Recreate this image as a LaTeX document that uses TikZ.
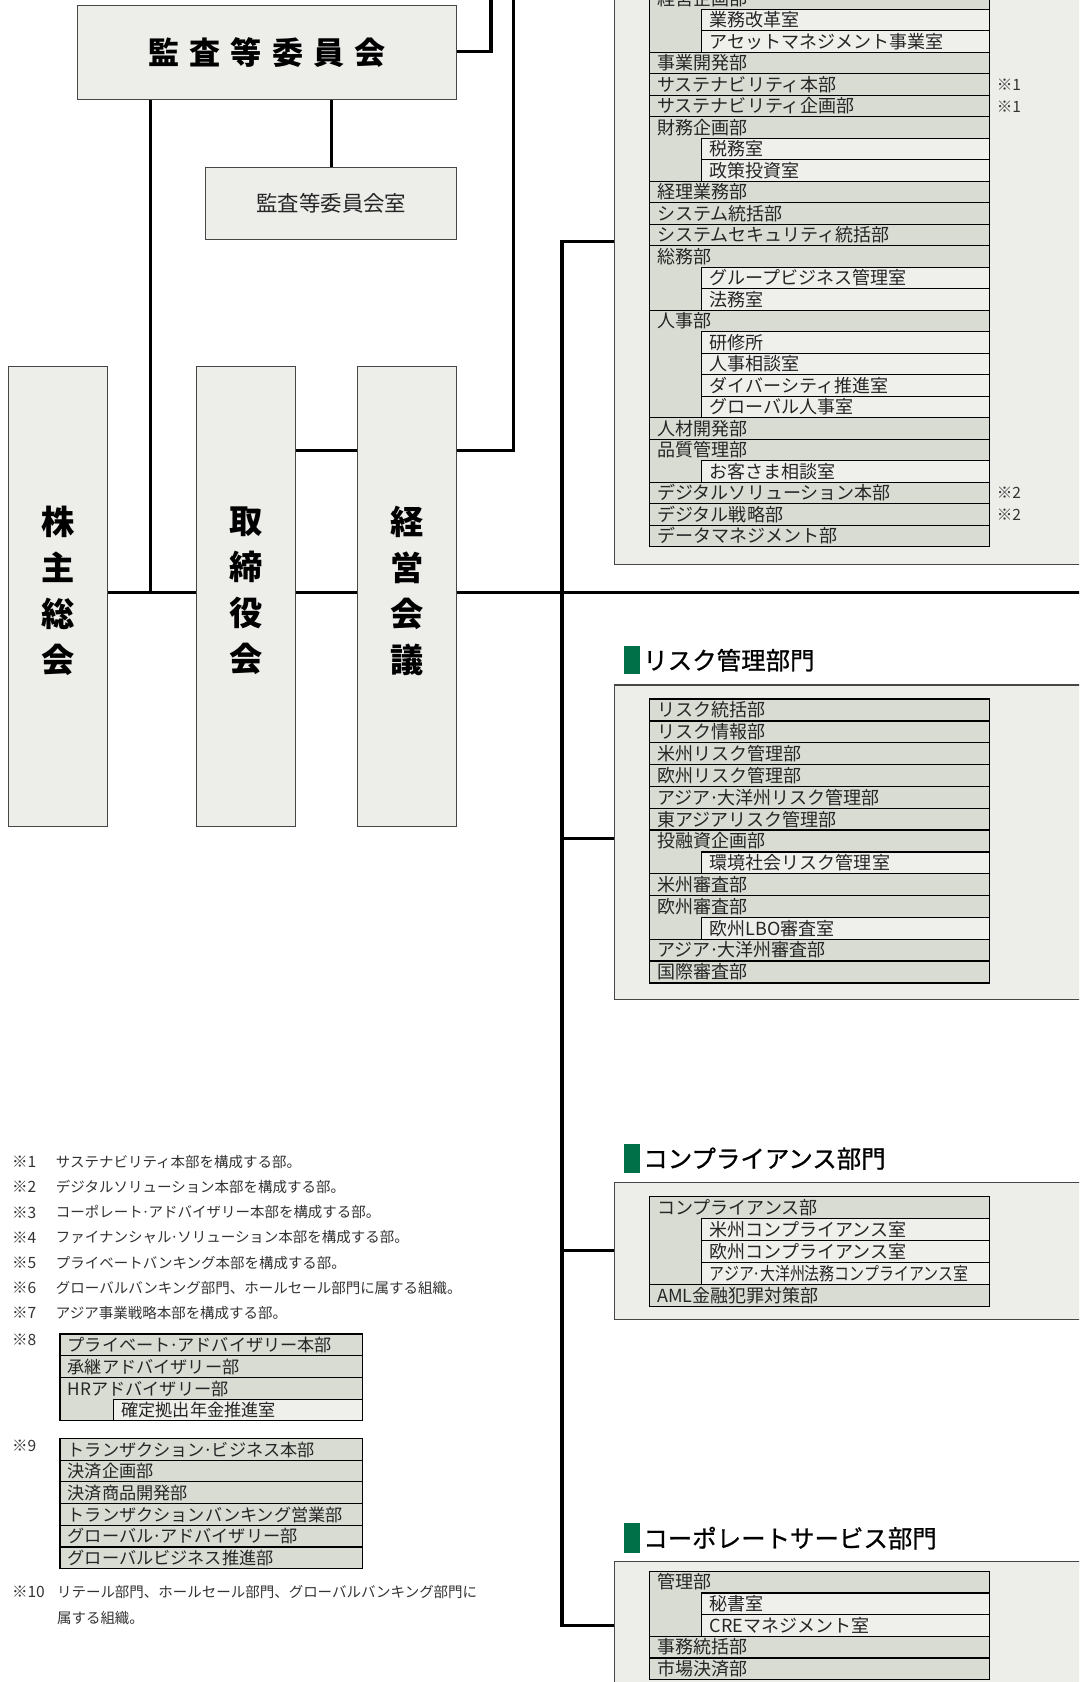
\documentclass[tikz,border=0pt]{standalone}
\usepackage{fontspec}
\usepackage{graphicx}
\setmainfont{Noto Sans CJK JP}
\newfontfamily\hdfont[FakeBold=0.8]{Noto Sans CJK JP}
\definecolor{panelbg}{RGB}{237,238,234}
\definecolor{rowdark}{RGB}{216,220,211}
\definecolor{rowlight}{RGB}{239,240,236}
\definecolor{grn}{RGB}{0,112,72}
\definecolor{bord}{RGB}{70,70,70}
\def\rowfont{\fontsize{16.8}{16.8}\selectfont}
\newcommand\mdot{\kern-0.08em·\kern-0.08em}
\tikzset{
  conn/.style={line width=3pt, black, line join=miter},
  bigbox/.style={draw=bord, line width=1pt, fill=panelbg, inner sep=0pt, text=black},
  panel/.style={draw=bord, line width=1.2pt, fill=panelbg, inner sep=0pt, anchor=north west},
  rowm/.style={draw=black, line width=1.2pt, fill=rowdark},
  rows/.style={draw=black, line width=1.2pt, fill=rowlight},
  rowt/.style={anchor=west, inner sep=0pt, text=black!85, font=\rowfont, text height=14.8pt, text depth=2pt},
  hd/.style={anchor=west, inner sep=0pt, text=black, font=\hdfont\fontsize{22.8}{22.8}\selectfont, text height=20pt, text depth=2.7pt},
  fn/.style={anchor=west, inner sep=0pt, text=black!80, font=\fontsize{13.5}{13.5}\selectfont, text height=11.9pt, text depth=1.6pt},
  mk/.style={fn, font=\fontsize{14.5}{14.5}\selectfont, text height=12.8pt, text depth=1.7pt},
  vtext/.style={inner sep=0pt, align=center, text=black, font=\bfseries\fontsize{31}{43}\selectfont},
}
\def\rowL{605.5}\def\rowR{922.5}\def\rowI{654}\def\rowY{0}\def\rowH{20}
\newcommand\mrow[4]{%
  \draw[rowm] (\rowL,{\rowY+#2*\rowH}) rectangle (\rowR,{\rowY+(#2+#3)*\rowH});
  \node[rowt] (#1) at ({\rowL+7},{\rowY+(#2+0.5)*\rowH}) {#4};}
\newcommand\srow[3]{%
  \draw[rows] (\rowI,{\rowY+#2*\rowH}) rectangle (\rowR,{\rowY+(#2+1)*\rowH});
  \node[rowt] (#1) at ({\rowI+7.5},{\rowY+(#2+0.5)*\rowH}) {#3};}
\begin{document}
\begin{tikzpicture}[x=1pt,y=-1pt]
\useasboundingbox (0,0) rectangle (1006,1568);
\clip (0,0) rectangle (1006,1568);
\fill[white] (0,0) rectangle (1006,1568);

% ---------- left boxes ----------
\node[bigbox, minimum width=353.3pt, minimum height=87.3pt, font=\bfseries\fontsize{29}{29}\selectfont] (kansa) at (249.05,48.95)
  {監\hspace{9.5pt}査\hspace{9.5pt}等\hspace{9.5pt}委\hspace{9.5pt}員\hspace{9.5pt}会};
\node[bigbox, minimum width=233.7pt, minimum height=66.7pt, font=\fontsize{20}{20}\selectfont, text=black!85] (shitsu) at (308.85,189.65) {監査等委員会室};
\node[bigbox, minimum width=92.1pt, minimum height=428.9pt] (kabu) at (54.15,556.25) {};
\node[bigbox, minimum width=92.2pt, minimum height=428.9pt] (tori) at (229.2,556.25) {};
\node[bigbox, minimum width=92.1pt, minimum height=428.9pt] (keiei) at (379.55,556.25) {};
\node[vtext] (kabuT) at (54.15,550.9) {株\\主\\総\\会};
\node[vtext] (toriT) at (229.2,550.9) {取\\締\\役\\会};
\node[vtext] (keieiT) at (379.55,550.9) {経\\営\\会\\議};

% ---------- panels ----------
\node[panel, minimum width=460pt, minimum height=545.8pt] (pTop) at (572.5,-20) {};
\node[panel, minimum width=460pt, minimum height=293.4pt] (pRisk) at (572.5,638) {};
\node[panel, minimum width=460pt, minimum height=128pt] (pComp) at (572.5,1101.7) {};
\node[panel, minimum width=460pt, minimum height=140pt] (pCorp) at (572.5,1455.3) {};

% ---------- coordinates ----------
\coordinate (mainR) at (1012,552);
\coordinate (l421) at (0,420.3);
\coordinate (l48) at (0,48);
\coordinate (topA) at (457.8,-5);
\coordinate (topB) at (479,-5);
\coordinate (v141) at (140.5,552);
\coordinate (tA) at (524,225);
\coordinate (tR) at (524,781.6);
\coordinate (tC) at (524,1165.4);
\coordinate (tB) at (524,1515.3);

% ---------- connectors ----------
\draw[conn] (kabu.east |- mainR) -- (tori.west |- mainR);
\draw[conn] (tori.east |- mainR) -- (keiei.west |- mainR);
\draw[conn] (keiei.east |- mainR) -- (mainR);
\draw[conn] (tori.east |- l421) -- (keiei.west |- l421);
\draw[conn] (keiei.east |- l421) -| (topB);
\draw[conn] (kansa.east |- l48) -| (topA);
\draw[conn] (kansa.south -| v141) -- (v141);
\draw[conn] (shitsu.north |- kansa.south) -- (shitsu.north);
\draw[conn] (pTop.west |- tA) -- (tA) -- (tB) -- (pCorp.west |- tB);
\draw[conn] (tR) -- (pRisk.west |- tR);
\draw[conn] (tC) -- (pComp.west |- tC);

% ---------- top panel rows ----------
\def\rowY{-11.34}\def\rowH{20.04}
\mrow{t0}{0}{3}{経営企画部}
\srow{t1}{1}{業務改革室}
\srow{t2}{2}{アセットマネジメント事業室}
\mrow{t3}{3}{1}{事業開発部}
\mrow{t4}{4}{1}{サステナビリティ本部}
\mrow{t5}{5}{1}{サステナビリティ企画部}
\mrow{t6}{6}{3}{財務企画部}
\srow{t7}{7}{税務室}
\srow{t8}{8}{政策投資室}
\mrow{t9}{9}{1}{経理業務部}
\mrow{t10}{10}{1}{システム統括部}
\mrow{t11}{11}{1}{システムセキュリティ統括部}
\mrow{t12}{12}{3}{総務部}
\srow{t13}{13}{グループビジネス管理室}
\srow{t14}{14}{法務室}
\mrow{t15}{15}{5}{人事部}
\srow{t16}{16}{研修所}
\srow{t17}{17}{人事相談室}
\srow{t18}{18}{ダイバーシティ推進室}
\srow{t19}{19}{グローバル人事室}
\mrow{t20}{20}{1}{人材開発部}
\mrow{t21}{21}{2}{品質管理部}
\srow{t22}{22}{お客さま相談室}
\mrow{t23}{23}{1}{デジタルソリューション本部}
\mrow{t24}{24}{1}{デジタル戦略部}
\mrow{t25}{25}{1}{データマネジメント部}
\node[mk] (m1a) at (929,{\rowY+4.5*\rowH}) {※1};
\node[mk] (m1b) at (929,{\rowY+5.5*\rowH}) {※1};
\node[mk] (m2a) at (929,{\rowY+23.5*\rowH}) {※2};
\node[mk] (m2b) at (929,{\rowY+24.5*\rowH}) {※2};

% ---------- risk ----------
\fill[grn] (582,602.3) rectangle (597,628.7);
\node[hd] (hRisk) at (599.5,615.5) {リスク管理部門};
\def\rowY{651.7}\def\rowH{20.35}
\mrow{r0}{0}{1}{リスク統括部}
\mrow{r1}{1}{1}{リスク情報部}
\mrow{r2}{2}{1}{米州リスク管理部}
\mrow{r3}{3}{1}{欧州リスク管理部}
\mrow{r4}{4}{1}{アジア\mdot 大洋州リスク管理部}
\mrow{r5}{5}{1}{東アジアリスク管理部}
\mrow{r6}{6}{2}{投融資企画部}
\srow{r7}{7}{環境社会リスク管理室}
\mrow{r8}{8}{1}{米州審査部}
\mrow{r9}{9}{2}{欧州審査部}
\srow{r10}{10}{欧州LBO審査室}
\mrow{r11}{11}{1}{アジア\mdot 大洋州審査部}
\mrow{r12}{12}{1}{国際審査部}

% ---------- compliance ----------
\fill[grn] (582,1066.6) rectangle (597,1093.3);
\node[hd] (hComp) at (599.5,1080) {コンプライアンス部門};
\def\rowY{1115.7}\def\rowH{20.5}
\mrow{c0}{0}{4}{コンプライアンス部}
\srow{c1}{1}{米州コンプライアンス室}
\srow{c2}{2}{欧州コンプライアンス室}
\srow{c3}{3}{\scalebox{0.83}[1]{アジア\mdot 大洋州法務コンプライアンス室}}
\mrow{c4}{4}{1}{AML金融犯罪対策部}

% ---------- corporate service ----------
\fill[grn] (582,1420.2) rectangle (597,1447.6);
\node[hd] (hCorp) at (599.5,1434) {コーポレートサービス部門};
\def\rowY{1464.7}\def\rowH{20.2}
\mrow{s0}{0}{3}{管理部}
\srow{s1}{1}{秘書室}
\srow{s2}{2}{CREマネジメント室}
\mrow{s3}{3}{1}{事務統括部}
\mrow{s4}{4}{1}{市場決済部}

% ---------- footnotes ----------
\node[mk] (fm1) at (11,1083) {※1};
\node[fn] (ft1) at (52,1083) {サステナビリティ本部を構成する部。};
\node[mk] (fm2) at (11,1106.5) {※2};
\node[fn] (ft2) at (52,1106.5) {デジタルソリューション本部を構成する部。};
\node[mk] (fm3) at (11,1130) {※3};
\node[fn] (ft3) at (52,1130) {コーポレート\mdot アドバイザリー本部を構成する部。};
\node[mk] (fm4) at (11,1153.5) {※4};
\node[fn] (ft4) at (52,1153.5) {ファイナンシャル\mdot ソリューション本部を構成する部。};
\node[mk] (fm5) at (11,1177) {※5};
\node[fn] (ft5) at (52,1177) {プライベートバンキング本部を構成する部。};
\node[mk] (fm6) at (11,1200.5) {※6};
\node[fn] (ft6) at (52,1200.5) {グローバルバンキング部門、ホールセール部門に属する組織。};
\node[mk] (fm7) at (11,1224) {※7};
\node[fn] (ft7) at (52,1224) {アジア事業戦略本部を構成する部。};
\node[mk] (fm8) at (11,1249) {※8};
\node[mk] (fm9) at (11,1348) {※9};
\node[mk] (fm10) at (11,1484) {※10};
\node[fn] (ft10) at (53,1484) {リテール部門、ホールセール部門、グローバルバンキング部門に};
\node[fn] (ft10b) at (53,1508) {属する組織。};

\def\rowL{56}\def\rowR{338}\def\rowI{105.5}
\def\rowfont{\fontsize{16}{16}\selectfont}
\def\rowY{1243.7}\def\rowH{20.2}
\mrow{e0}{0}{1}{プライベート\mdot アドバイザリー本部}
\mrow{e1}{1}{1}{承継アドバイザリー部}
\mrow{e2}{2}{2}{HRアドバイザリー部}
\srow{e3}{3}{確定拠出年金推進室}
\def\rowY{1341}\def\rowH{20.2}
\mrow{g0}{0}{1}{トランザクション\mdot ビジネス本部}
\mrow{g1}{1}{1}{決済企画部}
\mrow{g2}{2}{1}{決済商品開発部}
\mrow{g3}{3}{1}{トランザクションバンキング営業部}
\mrow{g4}{4}{1}{グローバル\mdot アドバイザリー部}
\mrow{g5}{5}{1}{グローバルビジネス推進部}
\end{tikzpicture}
\end{document}
